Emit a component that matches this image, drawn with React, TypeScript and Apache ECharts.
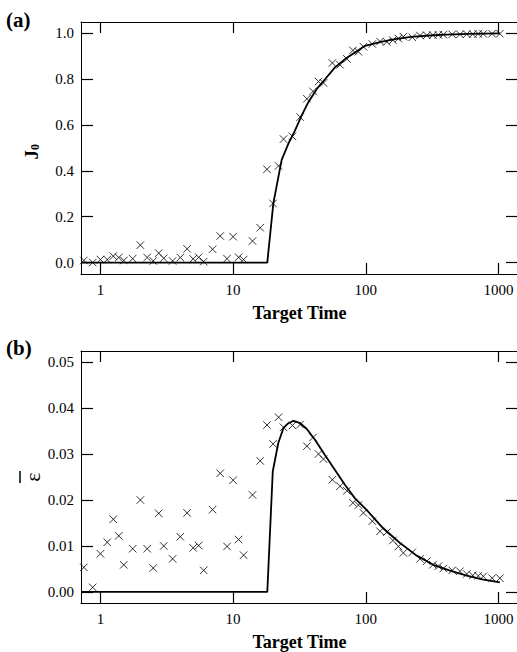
import React, { useEffect, useRef } from "react";
import * as echarts from "echarts";

const times = [0.75, 0.875, 1, 1.125, 1.25, 1.375, 1.5, 1.75, 2, 2.25, 2.5, 2.75, 3, 3.5, 4, 4.5, 5, 5.5, 6, 7, 8, 9, 10, 11, 12, 14, 16, 18, 20, 22, 24, 28, 32, 36, 40, 44, 48, 56, 64, 72, 80, 88, 96, 112, 128, 144, 160, 176, 192, 224, 256, 288, 320, 352, 384, 448, 512, 576, 640, 704, 768, 896, 1024];

const j0Obs = [0.009, 0.0, 0.013, 0.013, 0.028, 0.022, 0.009, 0.017, 0.076, 0.022, 0.007, 0.041, 0.019, 0.007, 0.022, 0.06, 0.016, 0.023, 0.004, 0.058, 0.116, 0.017, 0.113, 0.023, 0.013, 0.094, 0.152, 0.407, 0.258, 0.422, 0.539, 0.551, 0.635, 0.715, 0.747, 0.79, 0.784, 0.871, 0.863, 0.889, 0.926, 0.92, 0.942, 0.954, 0.965, 0.963, 0.971, 0.978, 0.986, 0.983, 0.991, 0.992, 0.993, 0.994, 0.995, 0.996, 0.996, 0.997, 0.997, 0.998, 0.998, 0.999, 0.999];

const epsObs = [0.00535, 0.001, 0.0083, 0.0108, 0.0158, 0.0122, 0.0059, 0.0094, 0.02, 0.0094, 0.0052, 0.0171, 0.01, 0.0072, 0.012, 0.0172, 0.0096, 0.0101, 0.0047, 0.0179, 0.0258, 0.0099, 0.0243, 0.0114, 0.008, 0.0211, 0.0285, 0.0363, 0.0322, 0.038, 0.0358, 0.0362, 0.0364, 0.0317, 0.0336, 0.03, 0.0289, 0.0244, 0.023, 0.022, 0.0194, 0.0189, 0.0172, 0.0154, 0.0132, 0.013, 0.0112, 0.0099, 0.0085, 0.0086, 0.0072, 0.0067, 0.0059, 0.0056, 0.0051, 0.0047, 0.0045, 0.0039, 0.0036, 0.0035, 0.0034, 0.003, 0.003];

const j0LineT = [0.714, 18.1, 20.1, 23.2, 26.1, 29.3, 32.9, 36.9, 42.7, 49.3, 58.6, 69.7, 82.9, 98.6, 130, 170, 220, 300, 400, 600, 1024];
const j0LineV = [0, 0, 0.258, 0.447, 0.519, 0.577, 0.642, 0.7, 0.758, 0.8, 0.852, 0.888, 0.917, 0.946, 0.963, 0.976, 0.985, 0.991, 0.995, 0.998, 1.0];

const epsLineT = [0.714, 18.1, 19.9, 21.9, 24.0, 26.1, 28.5, 32.0, 35.8, 41.4, 49.2, 58.4, 69.6, 82.6, 101, 134.7, 181, 242, 323, 431, 576, 770, 1024];
const epsLineV = [0, 0, 0.0262, 0.0324, 0.0357, 0.0367, 0.0372, 0.0367, 0.0355, 0.0331, 0.0298, 0.0266, 0.0233, 0.0204, 0.0179, 0.0139, 0.01065, 0.0079, 0.0059, 0.00463, 0.00354, 0.00267, 0.0021];

const xTicks = [1, 10, 100, 1000];
const j0Ticks = [0, 0.2, 0.4, 0.6, 0.8, 1.0];
const epsTicks = [0, 0.01, 0.02, 0.03, 0.04, 0.05];

const FONT = "'Liberation Serif', 'Times New Roman', serif";

export default function App() {
  const ref = useRef<HTMLDivElement>(null);
  useEffect(() => {
    document.body.style.margin = "0";
    if (!ref.current) return;
    const chart = echarts.init(ref.current, null, { renderer: "svg" });
    const lineStyle = { color: "#000", width: 1 };
    const tickStyle = { color: "#000", width: 1.2 };
    const xAxis = (grid: number, top: boolean) => ({
      type: "log",
      logBase: 10,
      gridIndex: grid,
      position: top ? "top" : "bottom",
      min: 0.714,
      max: 1403,
      axisLine: { show: true, onZero: false, lineStyle },
      axisTick: { show: true, inside: true, length: 11, lineStyle: tickStyle, customValues: xTicks },
      axisLabel: {
        show: !top,
        customValues: xTicks,
        formatter: (v: number) => String(Math.round(v)),
        fontFamily: FONT,
        fontSize: 15,
        color: "#000",
        margin: 8,
      },
      minorTick: { show: false },
      splitLine: { show: false },
      name: top ? "" : "Target Time",
      nameLocation: "middle",
      nameGap: 30,
      nameTextStyle: { fontFamily: FONT, fontSize: 18, fontWeight: "bold", color: "#000" },
    });
    const yAxis = (grid: number, right: boolean, min: number, max: number, ticks: number[], dec: number) => ({
      type: "value",
      gridIndex: grid,
      position: right ? "right" : "left",
      min,
      max,
      axisLine: { show: true, onZero: false, lineStyle },
      axisTick: { show: true, inside: true, length: 12, lineStyle: tickStyle, customValues: ticks },
      axisLabel: {
        show: !right,
        customValues: ticks,
        formatter: (v: number) => v.toFixed(dec),
        fontFamily: FONT,
        fontSize: 15,
        color: "#000",
        margin: 7,
      },
      splitLine: { show: false },
    });
    const cross = "path://M0,0L10,10M10,0L0,10";
    chart.setOption({
      animation: false,
      backgroundColor: "#fff",
      grid: [
        { left: 81, top: 22, width: 437, height: 252, outerBoundsMode: "none", containLabel: false },
        { left: 81, top: 351, width: 437, height: 252, outerBoundsMode: "none", containLabel: false },
      ],
      xAxis: [xAxis(0, false), xAxis(0, true), xAxis(1, false), xAxis(1, true)],
      yAxis: [
        yAxis(0, false, -0.05, 1.05, j0Ticks, 1),
        yAxis(0, true, -0.05, 1.05, j0Ticks, 1),
        yAxis(1, false, -0.0024, 0.0524, epsTicks, 2),
        yAxis(1, true, -0.0024, 0.0524, epsTicks, 2),
      ],
      series: [
        {
          type: "line",
          xAxisIndex: 0,
          yAxisIndex: 0,
          data: j0LineT.map((t, i) => [t, j0LineV[i]]),
          showSymbol: false,
          lineStyle: { color: "#000", width: 1.8 },
        },
        {
          type: "scatter",
          xAxisIndex: 0,
          yAxisIndex: 0,
          data: times.map((t, i) => [t, j0Obs[i]]),
          symbol: cross,
          symbolSize: 7.5,
          itemStyle: { color: "none", borderColor: "#000", borderWidth: 1 },
        },
        {
          type: "line",
          xAxisIndex: 2,
          yAxisIndex: 2,
          data: epsLineT.map((t, i) => [t, epsLineV[i]]),
          showSymbol: false,
          lineStyle: { color: "#000", width: 1.8 },
        },
        {
          type: "scatter",
          xAxisIndex: 2,
          yAxisIndex: 2,
          data: times.map((t, i) => [t, epsObs[i]]),
          symbol: cross,
          symbolSize: 7.5,
          itemStyle: { color: "none", borderColor: "#000", borderWidth: 1 },
        },
      ],
      graphic: [
        { type: "text", left: 6, top: 9, style: { text: "(a)", font: `bold 21px ${FONT}`, fill: "#000" } },
        { type: "text", left: 6, top: 337, style: { text: "(b)", font: `bold 21px ${FONT}`, fill: "#000" } },
        {
          type: "group",
          x: 31,
          y: 150,
          rotation: Math.PI / 2,
          children: [
            { type: "text", x: 0, y: 0, style: { text: "J", font: `bold 19px ${FONT}`, fill: "#000", align: "right", verticalAlign: "middle" } },
            { type: "text", x: 0, y: 4, style: { text: "0", font: `bold 12px ${FONT}`, fill: "#000", align: "left", verticalAlign: "middle" } },
          ],
        },
        {
          type: "group",
          x: 31,
          y: 477,
          rotation: Math.PI / 2,
          children: [
            { type: "text", x: 0, y: 1, style: { text: "ε", font: `22px ${FONT}`, fill: "#000", align: "center", verticalAlign: "middle" } },
            { type: "line", shape: { x1: -6, y1: -11, x2: 6, y2: -11 }, style: { stroke: "#000", lineWidth: 1.5 } },
          ],
        },
      ],
    });
    return () => chart.dispose();
  }, []);
  return <div ref={ref} style={{ width: 517, height: 652 }} />;
}
